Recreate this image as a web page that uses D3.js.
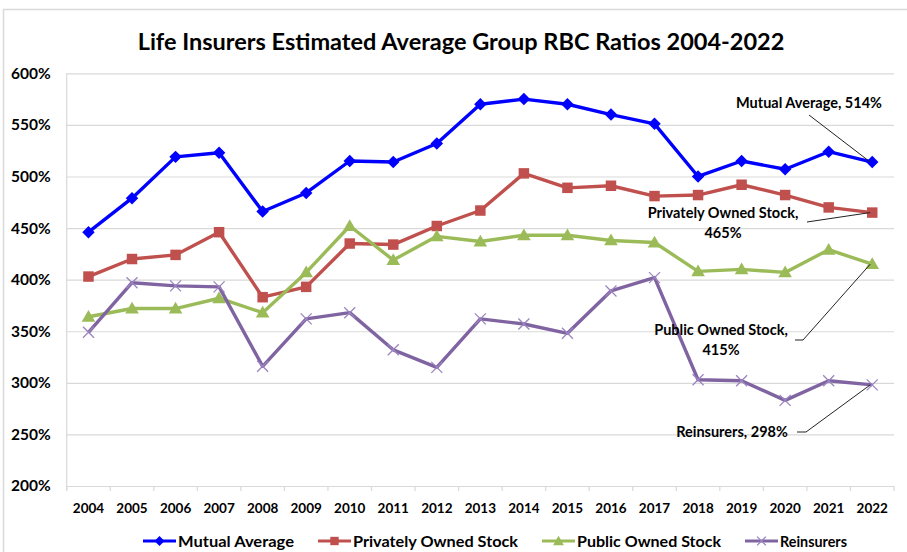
<!DOCTYPE html>
<html><head><meta charset="utf-8">
<script src="https://cdn.jsdelivr.net/npm/d3@7"></script>
<style>
body{margin:0;background:#fff;}
text{font-family:Lato,"Open Sans",sans-serif;font-weight:bold;fill:#000;}
</style></head>
<body><svg id="c" width="907" height="552"></svg>
<script>
const years = ["2004","2005","2006","2007","2008","2009","2010","2011","2012","2013","2014","2015","2016","2017","2018","2019","2020","2021","2022"];
const mutual  = [446,479,519,523,466,484,515,514,532,570,575,570,560,551,500,515,507,524,514];
const privateStock = [403,420,424,446,383,393,435,434,452,467,503,489,491,481,482,492,482,470,465];
const publicStock  = [364,372,372,382,368,407,452,419,442,437,443,443,438,436,408,410,407,429,415];
const reinsurers   = [349,397,394,393,316,362,368,332,315,362,357,348,389,402,303,302,283,302,298];
const yTicks = [200,250,300,350,400,450,500,550,600];
const seriesNames = ["Mutual Average","Privately Owned Stock","Public Owned Stock","Reinsurers"];
const annotations = [
  {s:0, lines:["Mutual Average, 514%"]},
  {s:1, lines:["Privately Owned Stock,","465%"]},
  {s:2, lines:["Public Owned Stock,","415%"]},
  {s:3, lines:["Reinsurers, 298%"]}
];

const svg = d3.select("#c");
const L=66.7, R=894, T=73.3, B=486;
const x = d3.scaleBand().domain(years).range([L,R]).padding(0);
const y = d3.scaleLinear().domain([200,600]).range([B,T]);
const cx = d => x(d)+x.bandwidth()/2;

// frame
svg.append("rect").attr("x",3.5).attr("y",9.5).attr("width",920).attr("height",600)
  .attr("fill","none").attr("stroke","#d9d9d9").attr("stroke-width",1.5);

// title
svg.append("text").attr("x",461).attr("y",50).attr("text-anchor","middle")
  .style("font-size","23.5px").text("Life Insurers Estimated Average Group RBC Ratios 2004-2022");

// grid + y axis
const gy = svg.append("g").attr("transform",`translate(${L},0)`)
  .call(d3.axisLeft(y).tickValues(yTicks).tickFormat(d=>d+"%").tickSize(-(R-L)).tickPadding(16));
gy.select(".domain").remove();
gy.selectAll(".tick line").attr("stroke","#d9d9d9").attr("stroke-width",1.2);
gy.selectAll(".tick text").style("font-size","15.5px").attr("font-family",null).attr("x",-16);
// y axis line
svg.append("line").attr("x1",L).attr("x2",L).attr("y1",T).attr("y2",B+4).attr("stroke","#d9d9d9").attr("stroke-width",1.2);

// x axis
const gx = svg.append("g").attr("transform",`translate(0,${B})`)
  .call(d3.axisBottom(x).tickSize(0).tickPadding(17));
gx.select(".domain").attr("stroke","#d9d9d9").attr("stroke-width",1.2);
gx.selectAll(".tick text").style("font-size","13.5px").attr("font-family",null);
svg.append("g").selectAll("line").data(years.concat(["end"])).join("line")
  .attr("x1",d=>d==="end"?R:x(d)).attr("x2",d=>d==="end"?R:x(d))
  .attr("y1",B).attr("y2",B+5).attr("stroke","#d9d9d9").attr("stroke-width",1.2);

const colors = ["#0000ff","#c0504d","#9bbb59","#8064a2"];
const data = [mutual, privateStock, publicStock, reinsurers];

function marker(g, i, px, py, scale){
  scale = scale||1;
  const c = colors[i];
  if(i===0){
    g.append("path").attr("d",d3.symbol(d3.symbolSquare, 78*scale*scale)())
      .attr("transform",`translate(${px},${py}) rotate(45)`).attr("fill",c);
  } else if(i===1){
    g.append("path").attr("d",d3.symbol(d3.symbolSquare, 110*scale*scale)())
      .attr("transform",`translate(${px},${py})`).attr("fill",c);
  } else if(i===2){
    g.append("path").attr("d",d3.symbol(d3.symbolTriangle, 80*scale*scale)())
      .attr("transform",`translate(${px},${py+1})`).attr("fill",c);
  } else {
    const h=5.5*scale;
    g.append("path").attr("d",`M${px-h},${py-h}L${px+h},${py+h}M${px-h},${py+h}L${px+h},${py-h}`)
      .attr("stroke","#9b85c0").attr("stroke-width",1.3).attr("fill","none");
  }
}

const line = d3.line().x((d,j)=>cx(years[j])).y(d=>y(d));
data.forEach((vals,i)=>{
  const g = svg.append("g");
  g.append("path").datum(vals).attr("d",line).attr("fill","none")
    .attr("stroke",colors[i]).attr("stroke-width",3.4).attr("stroke-linejoin","round");
  vals.forEach((v,j)=>marker(g,i,cx(years[j]),y(v)));
});

// annotations
const last = years[years.length-1];
const ax = cx(last);
const annPos = [
  {tx:809, ty:108, lx1:809, ly1:115, mid:null},
  {tx:723, ty:218, lx1:807, ly1:222, mid:null},
  {tx:721, ty:335, lx1:795, ly1:340, mid:[803,340]},
  {tx:732, ty:437, lx1:797, ly1:432, mid:[806,432]}
];
annotations.forEach((a,k)=>{
  const p = annPos[k];
  const vals = data[a.s];
  const t = svg.append("text").attr("text-anchor","middle").style("font-size","14.5px");
  a.lines.forEach((ln,m)=>t.append("tspan").attr("x",p.tx).attr("y",p.ty+m*20).text(ln));
  const pts = [[p.lx1,p.ly1]];
  if(p.mid) pts.push(p.mid);
  pts.push([ax-2, y(vals[vals.length-1])]);
  svg.append("path").attr("d",d3.line()(pts)).attr("fill","none").attr("stroke","#222").attr("stroke-width",1);
});

// legend
const legX = [143, 318, 542, 745];
const legW = [116, 165, 144, 67];
seriesNames.forEach((n,i)=>{
  const g = svg.append("g");
  const lx = legX[i], ly = 541;
  g.append("line").attr("x1",lx).attr("x2",lx+33).attr("y1",ly).attr("y2",ly)
    .attr("stroke",colors[i]).attr("stroke-width",3.2);
  marker(g,i,lx+16.5,ly,0.8);
  g.append("text").attr("x",lx+35).attr("y",ly+5.5).style("font-size","16px")
    .attr("textLength",legW[i]).attr("lengthAdjust","spacingAndGlyphs").text(n);
});
</script></body></html>
